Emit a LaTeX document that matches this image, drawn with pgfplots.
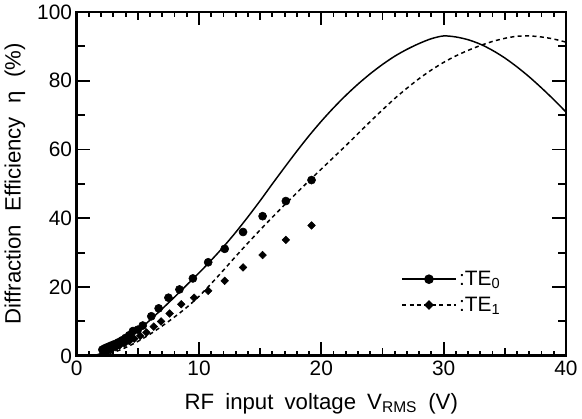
\documentclass[border=0pt]{standalone}
\usepackage{fontspec}
\setmainfont{Liberation Sans}
\usepackage{pgfplots}
\pgfplotsset{compat=1.18}
\newcommand{\tl}{\fontsize{15.5}{18}\selectfont}

\begin{document}
\begin{tikzpicture}
\begin{axis}[
  scale only axis,
  width=363.75pt, height=255.75pt,
  xmin=0, xmax=40, ymin=0, ymax=100,
  xtick={0,10,20,30,40},
  xticklabels={{\tl 0},{\tl 10},{\tl 20},{\tl 30},{\tl 40}},
  ytick={0,20,40,60,80,100},
  yticklabels={{\tl 0},{\tl 20},{\tl 40},{\tl 60},{\tl 80},{\tl 100}},
  minor xtick={0,1,...,40},
  major tick length=10pt,
  minor tick length=3.5pt,
  tick align=inside,
  tick style={black, line width=1.4pt},
  axis line style={line width=2pt},
  xlabel={\fontsize{16.5}{19}\selectfont RF\hspace{0.5em}input\hspace{0.5em}voltage\hspace{0.5em}V\textsubscript{RMS}\hspace{0.5em}(V)},
  ylabel={\fontsize{16.5}{19}\selectfont Diffraction\hspace{0.6em}Efficiency\hspace{0.6em}η\hspace{0.6em}(\%)},
  xlabel style={at={(axis description cs:0.5,-0.095)}, anchor=north},
  ylabel style={at={(axis description cs:-0.1265,0.5)}, anchor=center},
  legend style={draw=none, fill=none, at={(axis cs:26.2,26.3)}, anchor=north west,
    font=\fontsize{15.5}{18}\selectfont, row sep=3pt},
  legend cell align=left,
  legend image code/.code={\draw[#1, mark repeat=2, mark phase=2] plot coordinates {(0cm,0cm) (0.7cm,0cm) (1.4cm,0cm)};},
]

% tick marks on all four sides, pointing inwards
\pgfplotsinvokeforeach{1,2,3,4,6,7,8,9,11,12,13,14,16,17,18,19,21,22,23,24,26,27,28,29,31,32,33,34,36,37,38,39}{
  \draw[black, line width=1.2pt] (axis cs:#1,0) -- ++(0,3.5pt);
  \draw[black, line width=1.2pt] (axis cs:#1,100) -- ++(0,-3.5pt);
}
\pgfplotsinvokeforeach{5,15,25,35}{
  \draw[black, line width=1.4pt] (axis cs:#1,0) -- ++(0,6pt);
  \draw[black, line width=1.4pt] (axis cs:#1,100) -- ++(0,-6pt);
}
\pgfplotsinvokeforeach{10,30,50,70,90}{
  \draw[black, line width=1.4pt] (axis cs:0,#1) -- ++(6pt,0);
  \draw[black, line width=1.4pt] (axis cs:40,#1) -- ++(-6pt,0);
}

% TE0 measured (circles)
\addplot[only marks, mark=*, mark size=3pt, black, forget plot] coordinates {
  (2.1,1.8) (2.3,2.2) (2.5,2.5) (2.7,2.8) (2.9,3.1) (3.1,3.4) (3.4,3.9)
  (3.7,4.5) (4.0,5.2) (4.3,6.0) (4.6,7.2) (5.0,7.6) (5.4,8.8) (6.1,11.5)
  (6.7,13.8) (7.5,16.9) (8.4,19.3) (9.5,22.5) (10.75,27.2) (12.1,31.1)
  (13.6,36.0) (15.2,40.6) (17.1,45.0) (19.2,51.1)
};

% TE1 measured (diamonds)
\addplot[only marks, mark=square*, mark size=2pt, mark options={rotate=45}, black, forget plot] coordinates {
  (2.3,1.0) (2.6,1.5) (2.9,2.0) (3.2,2.5) (3.5,3.0) (3.9,3.6) (4.3,4.3)
  (4.7,5.0) (5.2,5.8) (5.7,6.8) (6.3,8.5) (6.9,10.0) (7.6,12.3) (8.55,15.0)
  (9.6,16.9) (10.75,18.9) (12.1,21.8) (13.6,25.7) (15.2,29.3) (17.1,33.7)
  (19.2,37.9)
};

% TE0 calculated
\addplot[black, line width=1.1pt, smooth, forget plot] coordinates {
  (1,0) (1.5,0.2) (2,0.7) (3,2.3) (4,4.5) (5,7.3) (6,10.4) (7,13.7) (8,17.1)
  (9,20.6) (10,24.1) (11,27.8) (12,31.7) (13,35.9) (14,40.4) (15,45.1) (16,50)
  (17,54.8) (18,59.5) (19,64) (20,68.2) (21,72.1) (22,75.7) (23,79) (24,82)
  (25,84.7) (26,87.1) (27,89.1) (28,90.8) (29,92.2) (30,93) (31,92.7) (32,91.9)
  (33,90.6) (34,88.8) (35,86.6) (36,84) (37,81.1) (38,77.9) (39,74.5) (40,70.9)
};

% TE1 calculated
\addplot[black, line width=1.1pt, dash pattern=on 3pt off 2.5pt, smooth, forget plot] coordinates {
  (1.5,0) (2,0.2) (3,1.0) (4,2.4) (5,4.2) (6,6.3) (7,8.7) (8,11.3) (9,14.1)
  (10,17.3) (11,21) (12,24.9) (13,28.9) (14,32.8) (15,36.6) (16,40.3) (17,43.9)
  (18,47.4) (19,50.9) (20,54.3) (21,57.7) (22,61.1) (23,64.6) (24,68.1) (25,71.5)
  (26,74.8) (27,77.8) (28,80.6) (29,83.1) (30,85.3) (31,87.2) (32,88.8)
  (33,90.2) (34,91.4) (35,92.3) (36,92.9) (37,93) (38,92.7) (39,92.1) (40,91.2)
};

% legend entries
\addlegendimage{black, line width=1.1pt, mark=*, mark size=3pt}
\addlegendentry{:TE\textsubscript{0}}
\addlegendimage{black, line width=1.1pt, dash pattern=on 3pt off 2.5pt, mark=square*, mark size=2pt, mark options={rotate=45, solid}}
\addlegendentry{:TE\textsubscript{1}}

\end{axis}
\end{tikzpicture}
\end{document}
